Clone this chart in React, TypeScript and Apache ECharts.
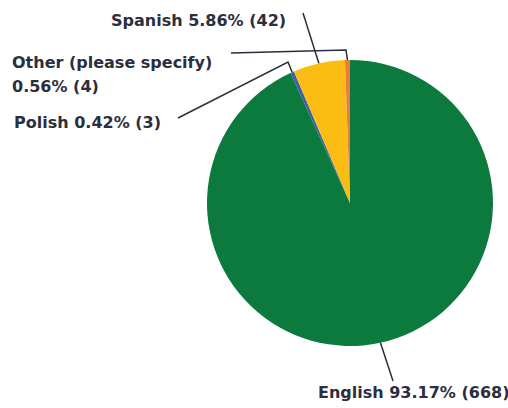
import React, { useEffect, useRef } from "react";
import * as echarts from "echarts";

const categories = ["English", "Polish", "Spanish", "Other (please specify)"];
const counts = [668, 3, 42, 4];
const colors = ["#0b7a3c", "#3d5ea8", "#fbbd14", "#f07a3c"];

// label anchor (left x, vertical centre y) and leader-line bend points
const labelPos = [
  { x: 318, y: 392 },
  { x: 14, y: 122 },
  { x: 111, y: 20 },
  { x: 12, y: 74 },
];
const lineBends: number[][][] = [
  [[393, 381]],
  [[288, 62], [178, 118]],
  [[303, 13]],
  [[346, 50], [231, 53]],
];

const total = counts.reduce((a, b) => a + b, 0);

export default function App() {
  const ref = useRef<HTMLDivElement>(null);
  useEffect(() => {
    const chart = echarts.init(ref.current!, undefined, { renderer: "svg" });
    chart.setOption({
      animation: false,
      backgroundColor: "#ffffff",
      series: [
        {
          type: "pie",
          center: [350, 203],
          radius: 143,
          startAngle: 90,
          clockwise: true,
          avoidLabelOverlap: false,
          itemStyle: { borderWidth: 0 },
          emphasis: { disabled: true },
          data: categories.map((c, i) => ({
            name: c,
            value: counts[i],
            itemStyle: { color: colors[i] },
          })),
          label: {
            show: true,
            formatter: (p: any) => {
              const pct = ((p.value / total) * 100).toFixed(2) + "% (" + p.value + ")";
              return p.name.length > 12 ? p.name + "\n" + pct : p.name + " " + pct;
            },
            fontFamily: "DejaVu Sans",
            fontWeight: "bold",
            fontSize: 16,
            lineHeight: 24,
            color: "#2b2e3d",
          },
          labelLine: {
            show: true,
            lineStyle: { color: "#2b2e3d", width: 1.5 },
          },
          labelLayout: (params: any) => {
            const i = params.dataIndex;
            const pos = labelPos[i];
            const start = params.labelLinePoints ? params.labelLinePoints[0] : [0, 0];
            return {
              x: pos.x,
              y: pos.y,
              align: "left",
              verticalAlign: "middle",
              labelLinePoints: [start, ...lineBends[i]],
            };
          },
        },
      ],
    });
    return () => chart.dispose();
  }, []);
  return (
    <div
      ref={ref}
      style={{ position: "fixed", left: 0, top: 0, width: 508, height: 408 }}
    />
  );
}
